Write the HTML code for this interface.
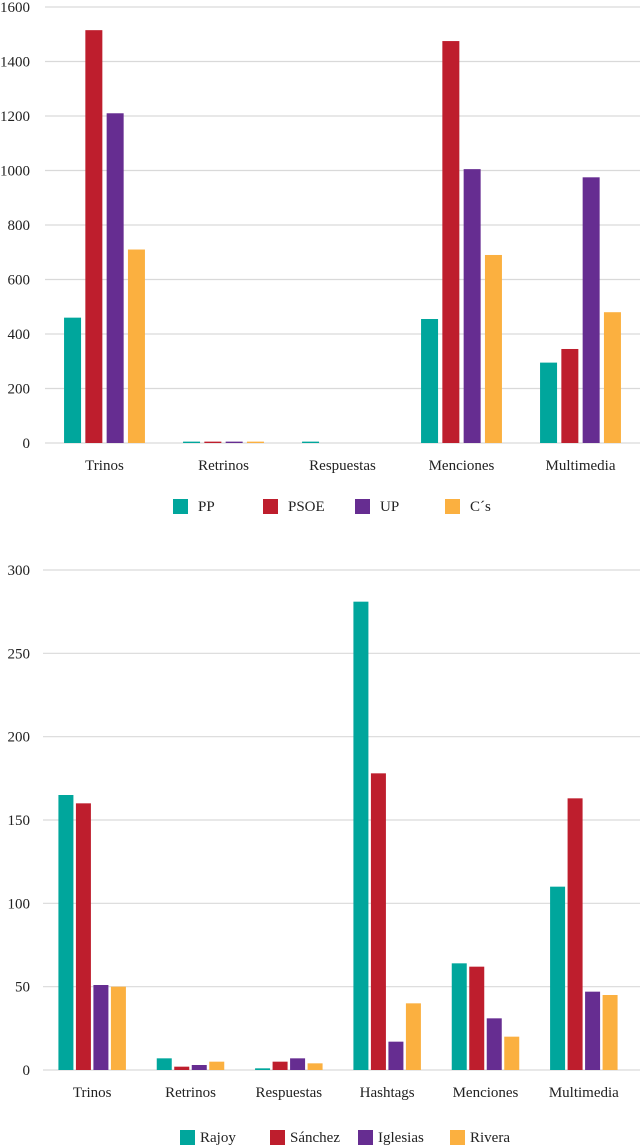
<!DOCTYPE html>
<html><head><meta charset="utf-8"><style>
body{margin:0;background:#fff;width:640px;height:1148px;overflow:hidden}
svg{display:block;font-family:"Liberation Serif",serif}
</style></head><body>
<svg id="c" width="640" height="1148"></svg>
<script>
const colors=['#00A69C','#BE1E2D','#662D91','#FBB040'];
const cats1=['Trinos','Retrinos','Respuestas','Menciones','Multimedia'];
const ticks1=[0,200,400,600,800,1000,1200,1400,1600];
const names1=['PP','PSOE','UP','C´s'];
const pp=[460,5,5,455,295];
const psoe=[1515,5,0,1475,345];
const up=[1210,5,0,1005,975];
const cs=[710,5,0,690,480];
const cats2=['Trinos','Retrinos','Respuestas','Hashtags','Menciones','Multimedia'];
const ticks2=[0,50,100,150,200,250,300];
const names2=['Rajoy','Sánchez','Iglesias','Rivera'];
const rajoy=[165,7,1,281,64,110];
const sanchez=[160,2,5,178,62,163];
const iglesias=[51,3,7,17,31,47];
const rivera=[50,5,4,40,20,45];
const NS='http://www.w3.org/2000/svg';
const svg=document.getElementById('c');
function mk(t,a,txt){const e=document.createElementNS(NS,t);for(const k in a)e.setAttribute(k,a[k]);if(txt!==undefined)e.textContent=txt;svg.appendChild(e);return e;}
function chart(cfg){
  const y=v=>cfg.y0-(v/cfg.max)*(cfg.y0-cfg.yTop);
  cfg.ticks.forEach(t=>{
    const l=mk('line',{x1:cfg.left,x2:640,y1:y(t),y2:y(t),stroke:'#d9d9d9','stroke-width':1.2});
    
    
    const tx=mk('text',{x:cfg.labelX,y:y(t)+5,'text-anchor':'end','font-size':15,fill:'#222'},t);
    
    
  });
  const step=(cfg.right-cfg.left)/cfg.cats.length;
  cfg.cats.forEach((c,i)=>{
    const cx=cfg.left+step*(i+0.5);
    cfg.series.forEach((s,j)=>{
      const x=cx+(j-2)*cfg.bstep+(cfg.bstep-cfg.bw)/2;
      const r=mk('rect',{x:x,y:y(s[i]),width:cfg.bw,height:Math.max(0,cfg.y0-y(s[i])),fill:colors[j]});
      
      
    });
    const t=mk('text',{x:cx,y:cfg.catY,'text-anchor':'middle','font-size':15,fill:'#222'},c);
    
    
  });
  cfg.names.forEach((n,j)=>{
    const r=mk('rect',{x:cfg.legX[j],y:cfg.legY-7,width:15,height:15,fill:colors[j]});
    
    
    const t=mk('text',{x:cfg.legX[j]+cfg.legGap,y:cfg.legY+5,'font-size':15,fill:'#222'},n);
    
    
  });
}
chart({y0:443,yTop:7,max:1600,ticks:ticks1,left:45,right:640,labelX:30,cats:cats1,series:[pp,psoe,up,cs],bw:17,bstep:21.3,catY:470,names:names1,legX:[173,263,355,445],legGap:25,legY:506});
chart({y0:1070,yTop:570,max:300,ticks:ticks2,left:43,right:633,labelX:30,cats:cats2,series:[rajoy,sanchez,iglesias,rivera],bw:15,bstep:17.5,catY:1097,names:names2,legX:[180,270,358,450],legGap:20,legY:1137});
</script>
</body></html>
